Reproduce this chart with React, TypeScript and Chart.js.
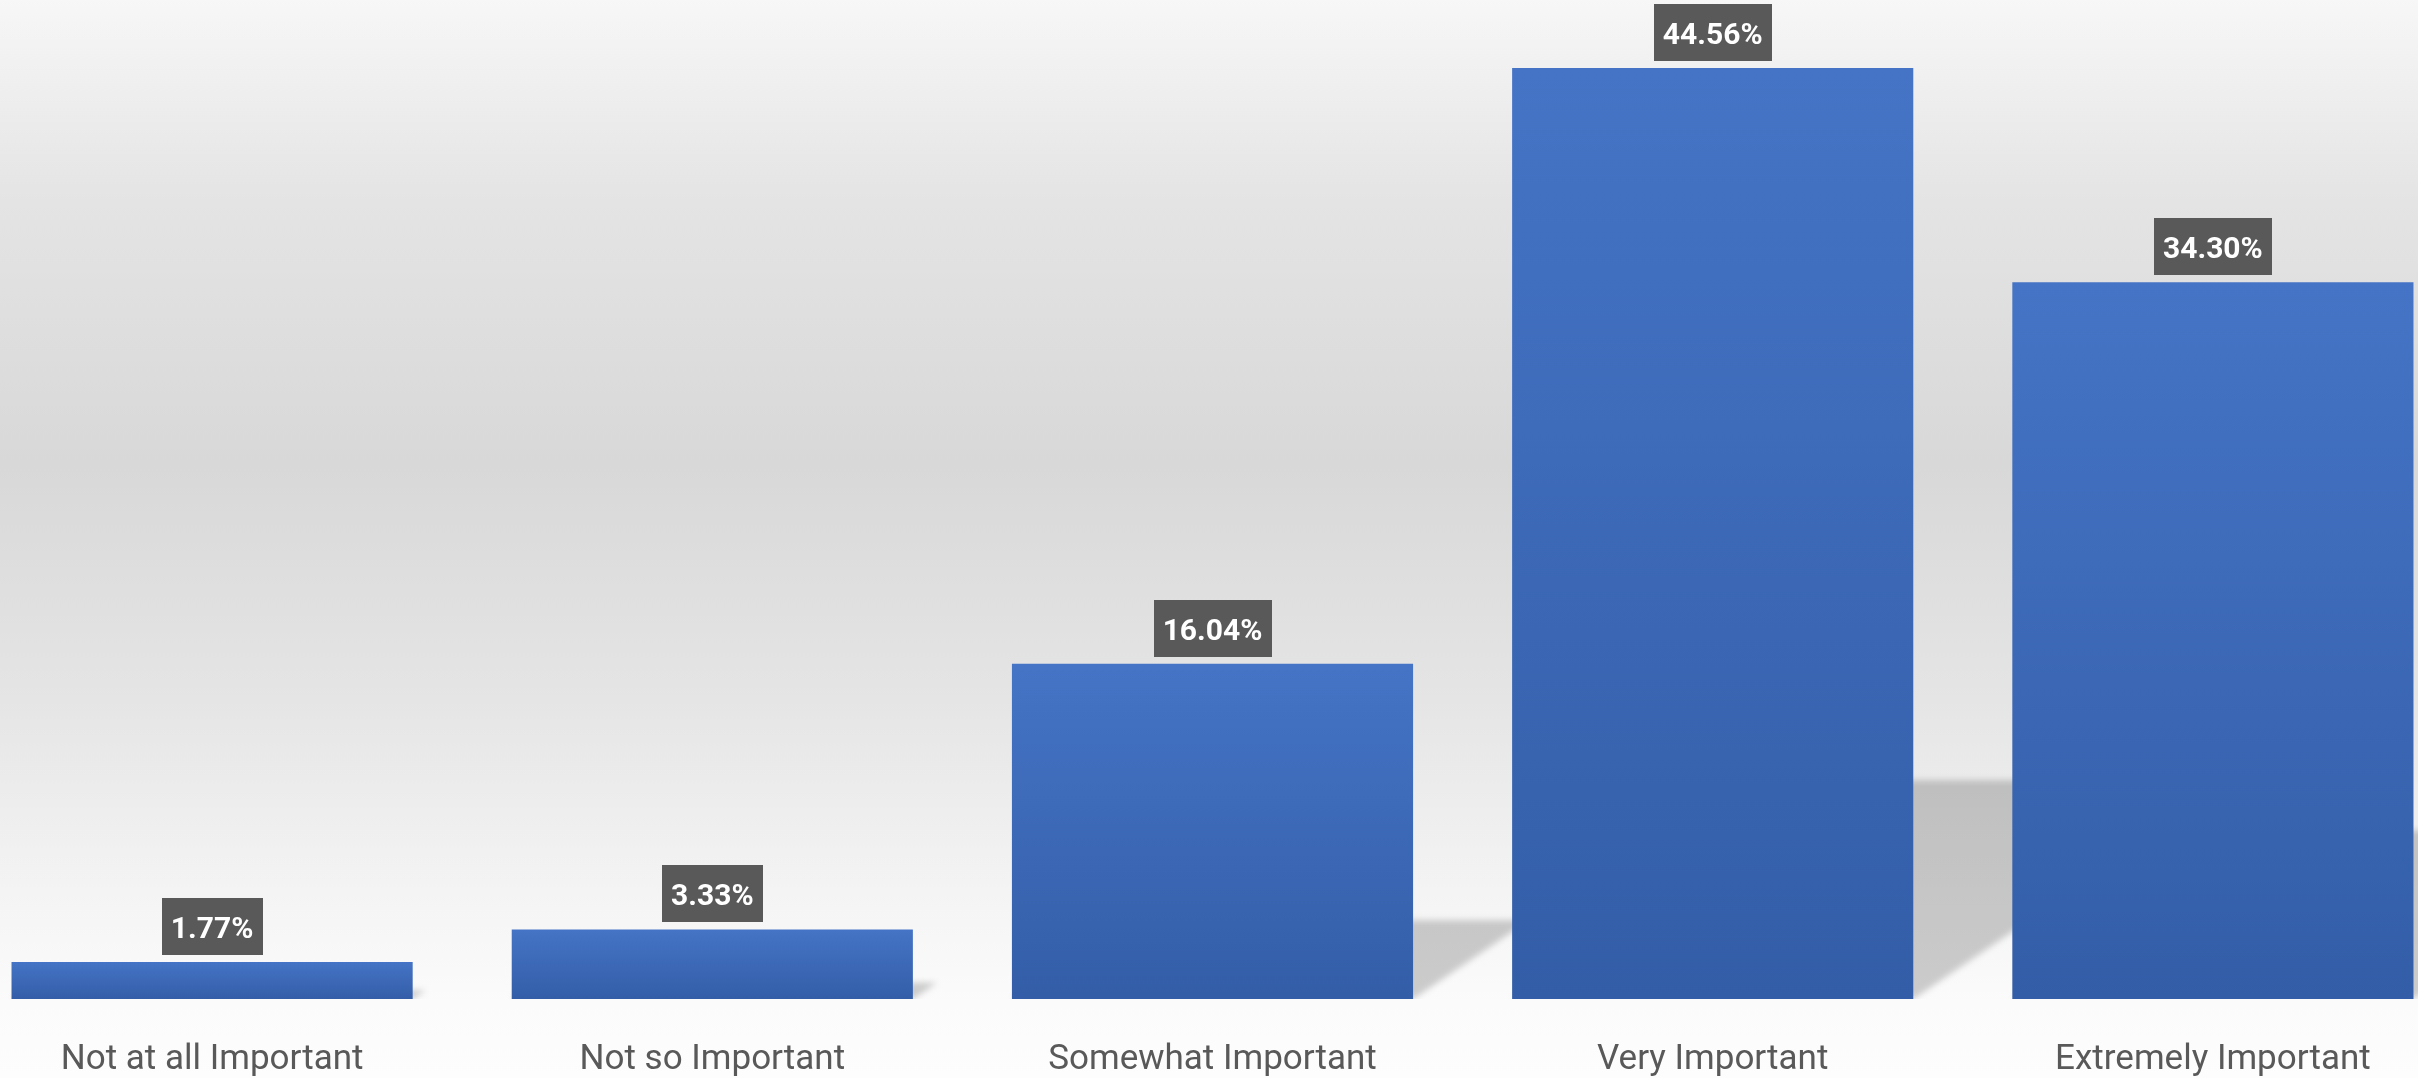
import React, { useEffect, useRef } from "react";
import { Chart, registerables } from "chart.js";

Chart.register(...registerables);

const categories = [
  "Not at all Important",
  "Not so Important",
  "Somewhat Important",
  "Very Important",
  "Extremely Important",
];
const values = [1.77, 3.33, 16.04, 44.56, 34.3];
const Y_MIN = 0;
const Y_MAX = 47.81;

const BAR_TOP = "#4574C6";
const BAR_BOTTOM = "#335DA7";
const LABEL_BG = "#595959";
const TEXT_COLOR = "#595959";

const SHADOW_RATIO = 0.235;
const SHADOW_SKEW = 1.47;

const backgroundPlugin = {
  id: "bgGradient",
  beforeDraw(chart: any) {
    const { ctx, width, height } = chart;
    const g = ctx.createLinearGradient(0, 0, 0, height);
    g.addColorStop(0, "#f7f7f7");
    g.addColorStop(0.186, "#e4e4e4");
    g.addColorStop(0.43, "#d8d8d8");
    g.addColorStop(0.65, "#e5e5e5");
    g.addColorStop(0.78, "#f0f0f0");
    g.addColorStop(0.855, "#f6f6f6");
    g.addColorStop(0.93, "#fbfbfb");
    g.addColorStop(1, "#fdfdfd");
    ctx.save();
    ctx.fillStyle = g;
    ctx.fillRect(0, 0, width, height);
    ctx.restore();
  },
};

const shadowPlugin = {
  id: "perspectiveShadow",
  beforeDatasetsDraw(chart: any) {
    const ctx = chart.ctx;
    const meta = chart.getDatasetMeta(0);
    const area = chart.chartArea;
    ctx.save();
    ctx.beginPath();
    ctx.rect(0, 0, chart.width, area.bottom);
    ctx.clip();
    ctx.filter = "blur(3px)";
    ctx.fillStyle = "rgba(0,0,0,0.19)";
    meta.data.forEach((bar: any) => {
      const { x, y, base, width } = bar.getProps(["x", "y", "base", "width"], true);
      const h = base - y;
      const s = h * SHADOW_RATIO;
      const dx = s * SHADOW_SKEW;
      const xl = x - width / 2;
      const xr = x + width / 2;
      ctx.beginPath();
      ctx.moveTo(xl, base);
      ctx.lineTo(xr, base);
      ctx.lineTo(xr + dx, base - s);
      ctx.lineTo(xl + dx, base - s);
      ctx.closePath();
      ctx.fill();
    });
    ctx.restore();
  },
};

const valueLabelPlugin = {
  id: "valueLabels",
  afterDatasetsDraw(chart: any) {
    const ctx = chart.ctx;
    const meta = chart.getDatasetMeta(0);
    const data = chart.data.datasets[0].data as number[];
    ctx.save();
    ctx.font = "bold 30px Roboto";
    meta.data.forEach((bar: any, i: number) => {
      const { x, y } = bar.getProps(["x", "y"], true);
      const text = data[i].toFixed(2) + "%";
      const tw = ctx.measureText(text).width;
      const bw = tw + 18;
      const bh = 57;
      const top = y - 7 - bh;
      ctx.fillStyle = LABEL_BG;
      ctx.fillRect(Math.round(x - bw / 2), Math.round(top), Math.round(bw), bh);
      ctx.fillStyle = "#ffffff";
      ctx.textAlign = "center";
      ctx.textBaseline = "alphabetic";
      ctx.fillText(text, x, top + 40);
    });
    ctx.restore();
  },
};

export default function App() {
  const ref = useRef<HTMLCanvasElement | null>(null);

  useEffect(() => {
    if (!ref.current) return;
    const chart = new Chart(ref.current, {
      type: "bar",
      data: {
        labels: categories,
        datasets: [
          {
            data: values,
            backgroundColor: (c: any) => {
              const chart = c.chart;
              const scales = chart.scales;
              if (!scales || !scales.y || typeof c.raw !== "number") return BAR_TOP;
              const top = scales.y.getPixelForValue(c.raw);
              const bottom = scales.y.getPixelForValue(0);
              if (!isFinite(top) || !isFinite(bottom) || top === bottom) return BAR_TOP;
              const g = chart.ctx.createLinearGradient(0, top, 0, bottom);
              g.addColorStop(0, BAR_TOP);
              g.addColorStop(1, BAR_BOTTOM);
              return g;
            },
            borderWidth: 0,
            categoryPercentage: 0.802,
            barPercentage: 1,
          },
        ],
      },
      options: {
        responsive: false,
        animation: false,
        devicePixelRatio: 1,
        layout: { padding: 0 },
        plugins: {
          legend: { display: false },
          tooltip: { enabled: false },
        },
        scales: {
          x: {
            grid: { display: false, drawTicks: false },
            border: { display: false },
            ticks: {
              color: TEXT_COLOR,
              font: { family: "Roboto", size: 35 },
              padding: 40,
              maxRotation: 0,
              autoSkip: false,
            },
            afterFit: (scale: any) => {
              scale.height = 79;
            },
          },
          y: {
            display: false,
            min: Y_MIN,
            max: Y_MAX,
          },
        },
      },
      plugins: [backgroundPlugin, shadowPlugin, valueLabelPlugin],
    });
    return () => chart.destroy();
  }, []);

  return (
    <div
      style={{
        position: "fixed",
        left: 0,
        top: 0,
        width: 2418,
        height: 1078,
        overflow: "hidden",
        background: "#fcfcfc",
      }}
    >
      <canvas
        ref={ref}
        width={2501}
        height={1078}
        style={{ position: "absolute", left: -38, top: 0, display: "block" }}
      />
    </div>
  );
}
